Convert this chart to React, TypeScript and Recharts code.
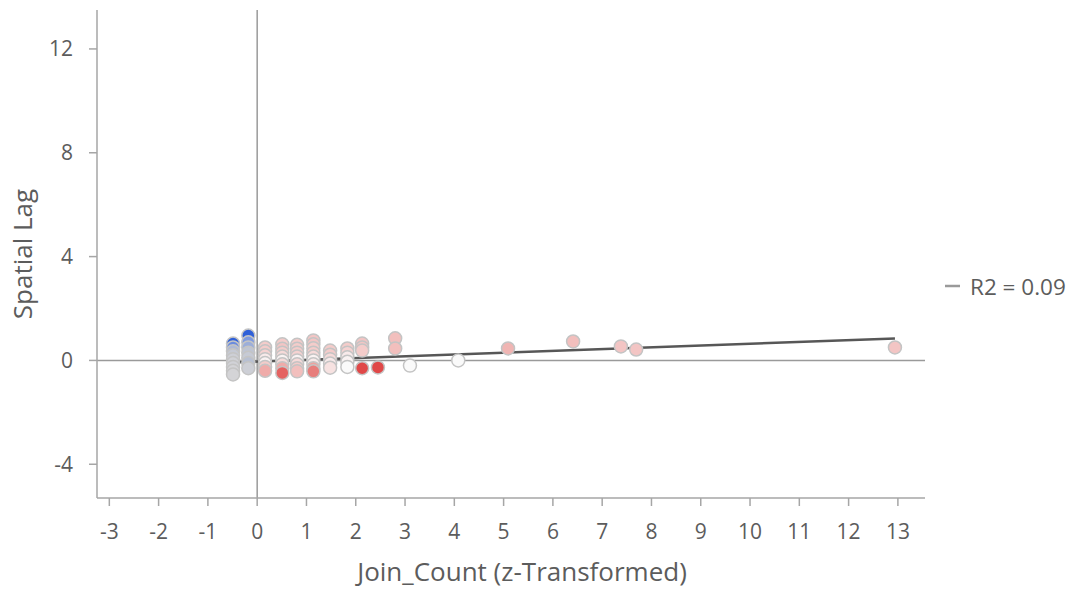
import React from "react";
import {
    ScatterChart,
    Scatter,
    XAxis,
    YAxis,
    ReferenceLine,
} from "recharts";

// Join_Count z-score for each feature
const joinCountZ = [
    -0.49, -0.49, -0.49, -0.49, -0.49, -0.49, -0.49, -0.49, -0.49,
    -0.18, -0.18, -0.18, -0.18, -0.18, -0.18, -0.18,
    0.16, 0.16, 0.16, 0.16, 0.16, 0.16, 0.16,
    0.51, 0.51, 0.51, 0.51, 0.51, 0.51, 0.51, 0.51,
    0.81, 0.81, 0.81, 0.81, 0.81, 0.81, 0.81, 0.81,
    1.14, 1.14, 1.14, 1.14, 1.14, 1.14, 1.14, 1.14, 1.14,
    1.48, 1.48, 1.48, 1.48, 1.48,
    1.83, 1.83, 1.83, 1.83, 1.83,
    2.13, 2.13, 2.13, 2.13,
    2.45,
    2.8, 2.8,
    3.1,
    4.08,
    5.09,
    6.41,
    7.38,
    7.69,
    12.94,
];

// spatial lag of the z-score
const spatialLag = [
    0.65, 0.5, 0.35, 0.2, 0.05, -0.1, -0.25, -0.4, -0.54,
    0.96, 0.7, 0.5, 0.3, 0.1, -0.1, -0.3,
    0.5, 0.35, 0.2, 0.05, -0.1, -0.25, -0.4,
    0.62, 0.45, 0.3, 0.15, 0.0, -0.15, -0.3, -0.48,
    0.6, 0.45, 0.3, 0.15, 0.0, -0.15, -0.3, -0.42,
    0.77, 0.62, 0.47, 0.3, 0.15, 0.0, -0.15, -0.3, -0.42,
    0.38, 0.22, 0.05, -0.12, -0.28,
    0.46, 0.3, 0.12, -0.05, -0.25,
    0.65, 0.5, 0.38, -0.3,
    -0.27,
    0.85, 0.46,
    -0.2,
    0.0,
    0.46,
    0.73,
    0.54,
    0.42,
    0.5,
];

// local score used for the point colour (negative = blue, positive = red)
const localScore = [
    -1, -0.7, -0.35, -0.2, -0.15, -0.12, -0.12, -0.1, -0.1,
    -1, -0.6, -0.45, -0.25, -0.2, -0.3, -0.15,
    0.3, 0.3, 0.25, 0.1, 0.05, 0.3, 0.5,
    0.3, 0.35, 0.3, 0.2, 0.05, 0.2, 0.5, 0.8,
    0.3, 0.3, 0.3, 0.25, 0.05, 0.2, 0.3, 0.4,
    0.35, 0.35, 0.3, 0.3, 0.2, 0.05, 0.1, 0.55, 0.7,
    0.3, 0.3, 0.2, 0.1, 0.15,
    0.3, 0.25, 0.1, 0.05, 0,
    0.35, 0.35, 0.3, 0.9,
    0.9,
    0.4, 0.4,
    0,
    0,
    0.45,
    0.4,
    0.35,
    0.35,
    0.35,
];

const xTicks = [-3, -2, -1, 0, 1, 2, 3, 4, 5, 6, 7, 8, 9, 10, 11, 12, 13];
const yTicks = [-4, 0, 4, 8, 12];

// fitted regression
const regSlope = 0.069;
const regIntercept = -0.045;
const rSquared = 0.09;

const points = joinCountZ.map((x, i) => ({ x, y: spatialLag[i], v: localScore[i] }));

const stops: [number, number[]][] = [
    [-1, [47, 96, 216]],
    [-0.6, [127, 155, 224]],
    [-0.3, [184, 192, 210]],
    [-0.1, [212, 212, 215]],
    [0, [250, 250, 250]],
    [0.25, [245, 210, 209]],
    [0.4, [242, 191, 189]],
    [0.6, [235, 151, 148]],
    [0.9, [224, 72, 72]],
];

function colorFor(v: number) {
    if (v <= stops[0][0]) return `rgb(${stops[0][1].join(",")})`;
    for (let i = 1; i < stops.length; i++) {
        if (v <= stops[i][0]) {
            const [a, ca] = stops[i - 1];
            const [b, cb] = stops[i];
            const t = (v - a) / (b - a);
            const c = ca.map((k, j) => Math.round(k + (cb[j] - k) * t));
            return `rgb(${c.join(",")})`;
        }
    }
    return `rgb(${stops[stops.length - 1][1].join(",")})`;
}

const Dot = (props: any) => {
    const { cx, cy, payload } = props;
    if (cx == null || cy == null) return null;
    return <circle cx={cx} cy={cy} r={6.5} fill={colorFor(payload.v)} stroke="#c4c4c4" strokeWidth={1.5} />;
};

const FONT = "'Open Sans', 'Noto Sans', sans-serif";
const TEXT = "#5c5c5c";
const AXIS = "#a6a6a6";

export default function App() {
    const xMin = Math.min(...joinCountZ);
    const xMax = Math.max(...joinCountZ);

    return (
        <div style={{ position: "absolute", left: 0, top: 0, width: 1071, height: 590, background: "#fff", fontFamily: FONT }}>
            <ScatterChart width={1071} height={590} margin={{ top: 10, right: 146, bottom: 0, left: 0 }}>
                <XAxis
                    type="number"
                    dataKey="x"
                    domain={[-3.25, 13.55]}
                    ticks={xTicks}
                    allowDataOverflow
                    height={92}
                    tickSize={8}
                    tickMargin={18}
                    stroke={AXIS}
                    strokeWidth={1.5}
                    tick={{ fill: TEXT, fontSize: 21, fontFamily: FONT }}
                    label={{ value: "Join_Count (z-Transformed)", position: "insideBottom", offset: 9, dx: 11, fill: TEXT, fontSize: 26, fontFamily: FONT }}
                />
                <YAxis
                    type="number"
                    dataKey="y"
                    domain={[-5.3, 13.5]}
                    ticks={yTicks}
                    allowDataOverflow
                    width={97}
                    tickSize={8}
                    tickMargin={16}
                    stroke={AXIS}
                    strokeWidth={1.5}
                    tick={{ fill: TEXT, fontSize: 21, fontFamily: FONT }}
                    label={{ value: "Spatial Lag", angle: -90, position: "insideLeft", offset: 23, fill: TEXT, fontSize: 26, fontFamily: FONT, style: { textAnchor: "middle" } }}
                />
                <ReferenceLine x={0} stroke="#9a9a9a" strokeWidth={1.5} />
                <ReferenceLine y={0} stroke="#9a9a9a" strokeWidth={1.5} />
                <Scatter data={points} shape={<Dot />} isAnimationActive={false} />
                <ReferenceLine
                    segment={[
                        { x: xMin, y: regIntercept + regSlope * xMin },
                        { x: xMax, y: regIntercept + regSlope * xMax },
                    ]}
                    stroke="#575757"
                    strokeWidth={2.5}
                    ifOverflow="visible"
                />
            </ScatterChart>
            <svg width={131} height={40} style={{ position: "absolute", left: 940, top: 268 }}>
                <line x1={5} x2={20} y1={18} y2={18} stroke="#9a9a9a" strokeWidth={2.5} />
                <text x={30} y={27} fill={TEXT} fontSize={22.5} fontFamily={FONT}>
                    R2 = {rSquared.toFixed(2)}
                </text>
            </svg>
        </div>
    );
}
